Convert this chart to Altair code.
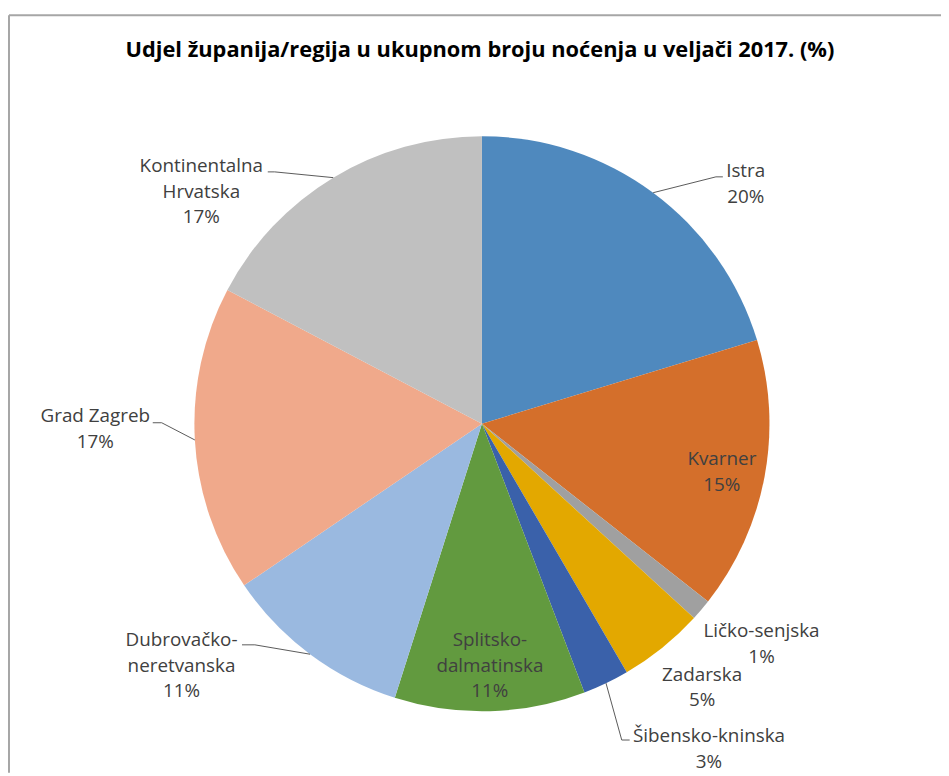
import altair as alt
import numpy as np
import pandas as pd

# ---------------- data ----------------
regions = [
    "Istra", "Kvarner", "Ličko-senjska", "Zadarska", "Šibensko-kninska",
    "Splitsko-dalmatinska", "Dubrovačko-neretvanska", "Grad Zagreb",
    "Kontinentalna Hrvatska",
]
label_names = [
    "Istra", "Kvarner", "Ličko-senjska", "Zadarska", "Šibensko-kninska",
    "Splitsko-\ndalmatinska", "Dubrovačko-\nneretvanska", "Grad Zagreb",
    "Kontinentalna\nHrvatska",
]
shares = [20.3, 15.3, 1.2, 4.8, 2.6, 10.7, 10.6, 17.2, 17.3]
colors = [
    "#4F89BE", "#D46F2B", "#A0A0A0", "#E3A800", "#3A61AA",
    "#629A3F", "#9AB9E0", "#F0A98B", "#C0C0C0",
]
title_text = "Udjel županija/regija u ukupnom broju noćenja u veljači 2017. (%)"

# ---------------- layout (page px; y = first text line) ----------------
OFF = 8
W, H = 941, 768
CX, CY, R = 486 - OFF, 424 - OFF, 290
label_anchor = {
    "Istra": (752, 169), "Kvarner": (728, 460), "Ličko-senjska": (768, 633),
    "Zadarska": (708, 677), "Šibensko-kninska": (715, 739),
    "Splitsko-dalmatinska": (494, 642), "Dubrovačko-neretvanska": (183, 642),
    "Grad Zagreb": (96, 416), "Kontinentalna Hrvatska": (203, 164),
}
leaders = {
    "Istra": [(722, 175), (729, 175)],
    "Kontinentalna Hrvatska": [(277, 170), (270, 170)],
    "Grad Zagreb": [(163, 423), (154, 423)],
    "Dubrovačko-neretvanska": [(257, 647), (244, 647)],
    "Šibensko-kninska": [(627, 743), (635, 743)],
}

s = np.array(shares, dtype=float)
pct = [f"{int(round(v))}%" for v in s]
df = pd.DataFrame({"idx": range(len(regions)), "region": regions, "share": shares})

lab_df = pd.DataFrame({
    "region": regions,
    "text": [f"{n}\n{p}" for n, p in zip(label_names, pct)],
    "tx": [label_anchor[r][0] - OFF for r in regions],
    "ty": [label_anchor[r][1] - OFF for r in regions],
})

cum = np.cumsum(s)
mid = (cum - s / 2) / s.sum() * 2 * np.pi
rows = []
for i, r in enumerate(regions):
    if r in leaders:
        ex = CX + R * np.sin(mid[i])
        ey = CY - R * np.cos(mid[i])
        pts = [(ex, ey)] + [(px - OFF, py - OFF) for px, py in leaders[r]]
        for k, (px, py) in enumerate(pts):
            rows.append({"region": r, "step": k, "x": px, "y": py})
lead_df = pd.DataFrame(rows)

xs = alt.Scale(domain=[0, W], nice=False, zero=False)
ys = alt.Scale(domain=[0, H], reverse=True, nice=False, zero=False)

pie = alt.Chart(df).mark_arc(radius=R).encode(
    theta=alt.Theta("share:Q", stack=True),
    color=alt.Color("region:N", scale=alt.Scale(domain=regions, range=colors), legend=None),
    order=alt.Order("idx:Q"),
    x=alt.value(CX),
    y=alt.value(CY),
)

lines = alt.Chart(lead_df).mark_line(color="#595959", strokeWidth=1).encode(
    x=alt.X("x:Q", scale=xs, axis=None),
    y=alt.Y("y:Q", scale=ys, axis=None),
    detail="region:N",
    order="step:Q",
)

labels = alt.Chart(lab_df).mark_text(
    font="Open Sans", fontSize=19, lineBreak="\n", lineHeight=26,
    align="center", baseline="middle", color="#404040",
).encode(
    x=alt.X("tx:Q", scale=xs, axis=None),
    y=alt.Y("ty:Q", scale=ys, axis=None),
    text="text:N",
)

title = alt.Chart(pd.DataFrame({"t": [title_text]})).mark_text(
    font="Open Sans", fontSize=22, fontWeight="bold", color="#000000",
    align="center", baseline="middle",
).encode(text="t:N", x=alt.value(484 - OFF), y=alt.value(47 - OFF))

frame_top = alt.Chart(pd.DataFrame({"a": [0]})).mark_rule(
    color="#A6A6A6", strokeWidth=2
).encode(x=alt.value(1), x2=alt.value(W), y=alt.value(4))
frame_left = alt.Chart(pd.DataFrame({"a": [0]})).mark_rule(
    color="#A6A6A6", strokeWidth=2
).encode(x=alt.value(1), y=alt.value(4), y2=alt.value(H))

chart = alt.layer(frame_top, frame_left, pie, lines, labels, title).properties(
    width=W, height=H, padding=0,
    autosize=alt.AutoSizeParams(type="none"),
).configure_view(stroke=None)

chart.save("out.html", embed_options={"renderer": "svg", "actions": False})
